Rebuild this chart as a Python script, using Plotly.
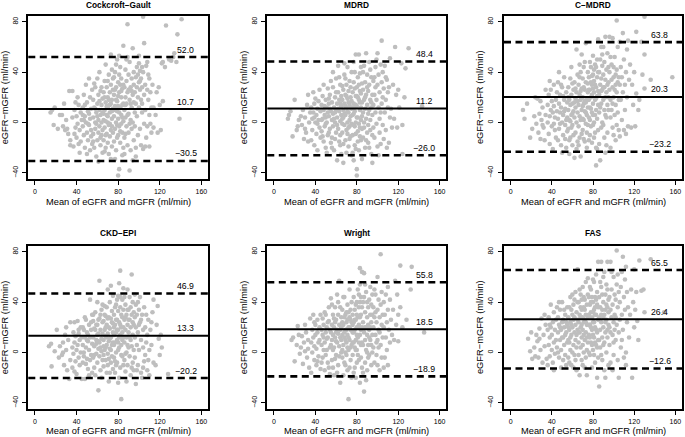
import plotly.graph_objects as go

titles = ["Cockcroft−Gault", "MDRD", "C−MDRD", "CKD−EPI", "Wright", "FAS"]
bias = [10.7, 11.2, 20.3, 13.3, 18.5, 26.4]
upper = [52.0, 48.4, 63.8, 46.9, 55.8, 65.5]
lower = [-30.5, -26.0, -23.2, -20.2, -18.9, -12.6]
x_ticks = [0, 40, 80, 120, 160]
y_ticks = [-40, 0, 40, 80]

cg_points = [
    (15,8),(16.5,10),(19,12),(22,-5),(24,6),(18,-2),
    (26,6),(28,15),(30,2),(31,-5),(32,-9),(33,25),(34,-14),(34,-18),(29,-6),(27,-3),
    (36,25),(37,-19),(38,10),(39,-4),(40,5),(40,-12),(41,20),(41,-1),(42,14),(43,-6),(43,-24),(44,8),(44,-15),(45,2),(36,4),(38,-9),(42,-17),(39,16),
    (46,12),(46,-3),(47,22),(47,-10),(48,5),(48,-20),(49,30),(49,0),(50,16),(50,-8),(51,9),(51,-14),(52,35),(52,-2),(53,20),(53,3),(53,-22),(54,11),(54,-6),(55,26),(55,-17),(46,6),(48,14),(50,-25),(51,-1),(52,7),(54,-11),(47,2),
    (56,4),(56,18),(56,-9),(57,12),(57,-20),(58,28),(58,0),(58,-5),(59,8),(59,-27),(60,15),(60,-14),(60,35),(61,2),(61,22),(61,-31),(62,-3),(62,10),(62,40),(63,-18),(63,6),(63,25),(64,-10),(64,14),(64,0),(65,19),(65,-6),(65,-24),(57,31),(59,-1),(60,5),(61,-8),(62,17),(63,-12),(64,28),(56,-15),(58,11),(65,8),
    (66,2),(66,24),(66,-14),(67,10),(67,33),(67,-4),(68,16),(68,-20),(68,46),(69,6),(69,-9),(69,28),(70,0),(70,20),(70,-16),(70,12),(71,38),(71,-2),(71,-25),(72,8),(72,24),(72,-11),(73,15),(73,30),(73,-6),(73,54),(74,3),(74,-19),(74,18),(74,42),(75,11),(75,-8),(75,26),(66,7),(67,-23),(68,1),(69,13),(70,33),(71,18),(72,-1),(73,-29),(74,9),(75,35),(68,-10),(70,5),(72,14),(74,-3),(67,20),
    (76,5),(76,22),(76,-15),(77,13),(77,40),(77,-5),(78,28),(78,0),(78,-22),(79,17),(79,9),(79,50),(80,-10),(80,32),(80,3),(81,24),(81,-3),(81,-37),(82,12),(82,44),(82,-16),(83,20),(83,6),(83,35),(84,-8),(84,27),(84,-26),(85,15),(85,61),(85,1),(76,36),(77,-29),(78,18),(79,-12),(80,21),(80,-42),(81,8),(82,30),(83,-1),(84,14),(76,10),(77,26),(78,46),(79,-2),(80,13),(81,38),(82,-7),(83,25),(84,4),(85,-20),(85,30),(81,53),
    (86,10),(86,28),(86,-12),(87,20),(87,4),(87,42),(88,-3),(88,33),(88,15),(89,78),(89,-18),(89,24),(90,7),(90,38),(90,-8),(91,18),(91,-38),(91,48),(92,2),(92,28),(92,-22),(93,12),(93,35),(93,-5),(94,22),(94,59),(94,0),(95,16),(95,40),(95,-14),(86,-25),(87,14),(88,50),(89,6),(90,26),(91,-1),(92,15),(93,25),(94,-30),(95,30),(89,52),(87,-9),
    (96,24),(96,8),(96,-3),(97,36),(97,15),(97,-20),(98,44),(98,28),(98,5),(99,20),(99,-10),(99,38),(100,32),(100,12),(100,47),(101,26),(101,-5),(101,41),(102,18),(102,35),(102,-18),(103,44),(103,8),(103,28),(104,84),(104,-21),(104,40),(105,22),(105,63),(105,-1),(100,53),(97,-27),(103,15),(101,33),
    (106,30),(106,10),(107,45),(107,-12),(108,26),(108,-3),(109,18),(109,38),(110,6),(110,-19),(111,24),(111,-1),(112,12),(112,-8),(113,30),(114,12),(114,-4),(106,-19),(108,48),(110,35),
    (117,24),(118,-8),(119,28),(120,14),(121,-6),(122,47),(123,48),(123,17),(125,44),(116,6),
    (126,77),(131,49),(134,55),(136,48),(137,70),(139,3),(141,82),(133,52),(129,50),
]

mdrd_points = [
    (13.5,3),(14.5,6),(16,9),(18,-11),(20,18),(22,-6),(23,-3),(24,2),
    (26,5),(27,-2),(28,10),(29,-13),(30,4),(31,-8),(32,14),(33,-15),(34,0),(35,8),(30,-5),(33,22),
    (36,-14),(36,12),(37,3),(37,-6),(38,24),(38,8),(39,-18),(39,15),(40,0),(40,19),(41,-9),(41,6),(42,11),(42,-22),(43,2),(43,17),(44,26),(44,-4),(45,9),(45,-12),(39,4),(42,-1),
    (46,14),(46,-7),(47,21),(47,3),(48,-15),(48,10),(49,6),(49,-3),(50,18),(50,-20),(51,12),(51,0),(52,27),(52,-10),(53,5),(53,15),(54,-5),(54,22),(55,9),(55,-16),(46,2),(47,-11),(48,30),(49,13),(50,-1),(51,-24),(52,8),(53,-8),(54,11),(55,33),(50,4),(53,19),
    (56,2),(56,16),(56,-12),(57,7),(57,28),(57,-3),(58,12),(58,-22),(59,20),(59,0),(60,35),(60,-8),(60,10),(61,-30),(61,15),(61,4),(62,24),(62,-5),(62,45),(63,9),(63,-15),(63,18),(64,1),(64,30),(64,-10),(65,13),(65,-25),(65,6),(56,-20),(57,40),(58,3),(59,-13),(60,24),(61,-2),(62,11),(63,36),(64,-18),(65,21),(59,8),(64,15),
    (66,3),(66,18),(66,-8),(67,26),(67,10),(67,-32),(68,-2),(68,15),(68,38),(69,6),(69,-14),(69,22),(70,12),(70,-6),(70,30),(71,0),(71,19),(71,44),(72,8),(72,-19),(72,25),(73,14),(73,-3),(73,33),(74,5),(74,-11),(74,20),(75,11),(75,-26),(75,40),(66,29),(67,-17),(68,7),(69,13),(70,-24),(71,-9),(72,16),(73,2),(74,28),(75,-1),(68,47),(70,21),(72,-4),(74,12),(66,-1),(69,35),(71,9),(73,-13),(75,17),(67,4),
    (76,6),(76,24),(76,-10),(77,15),(77,-2),(77,32),(78,9),(78,-18),(78,40),(79,21),(79,0),(79,54),(80,-37),(80,13),(80,28),(81,4),(81,-7),(81,36),(82,18),(82,54),(82,-22),(83,10),(83,25),(83,-4),(84,2),(84,44),(84,-14),(85,16),(85,31),(85,-29),(76,-24),(77,7),(78,27),(79,-9),(80,4),(81,20),(82,-1),(83,39),(84,12),(85,5),(80,-42),(79,14),(76,12),(77,48),(78,-3),(80,21),(81,-15),(82,30),(83,-11),(84,23),(85,-5),(77,-30),(83,16),(79,-21),
    (86,8),(86,26),(86,-12),(87,18),(87,-4),(87,45),(88,11),(88,32),(88,-20),(89,55),(89,3),(89,22),(90,-8),(90,14),(90,38),(91,25),(91,-2),(91,-16),(92,10),(92,30),(92,48),(93,-6),(93,18),(93,2),(94,36),(94,-25),(94,12),(95,-32),(95,22),(95,6),(86,40),(87,0),(88,20),(89,-14),(90,28),(91,7),(92,-20),(93,42),(94,16),(95,-10),
    (96,14),(96,33),(96,-4),(97,22),(97,-12),(98,8),(98,44),(98,28),(99,-1),(99,18),(100,55),(100,30),(100,-19),(101,12),(101,38),(102,3),(102,24),(102,-8),(103,-17),(103,46),(104,65),(104,15),(104,32),(105,-2),(105,20),(97,36),(99,50),(101,-26),(103,8),(105,40),
    (106,-13),(106,27),(107,8),(107,45),(108,18),(108,-6),(109,34),(109,-20),(110,12),(110,24),(111,-16),(112,51),(112,4),(113,11),(114,-4),(115,30),(108,36),(111,28),
    (116,3),(117,60),(118,22),(119,-4),(120,26),(121,12),(123,47),(124,-2),
    (127,43),(130,59),(143,13),(124,-25),(126,20),
]

cmdrd_points = [
    (12,10),(13.5,3),(16,15),(19,-12),(21,-5),(23,5),(24,20),(25,-1),
    (26,19),(27,-8),(28,7),(29,-13),(30,2),(31,12),(32,-4),(33,-14),(34,26),(34,6),(29,17),(31,-2),
    (36,0),(36,14),(37,-9),(37,22),(38,5),(38,-17),(39,10),(39,26),(40,-3),(40,17),(41,8),(41,-21),(42,13),(42,30),(43,-6),(43,4),(44,18),(44,-12),(45,9),(45,24),(38,33),(42,-1),
    (46,32),(46,3),(46,-14),(47,15),(47,-5),(48,22),(48,8),(49,-18),(49,12),(50,0),(50,28),(51,6),(51,-10),(52,18),(52,36),(53,-2),(53,11),(54,24),(54,-20),(55,4),(55,16),(47,40),(48,-1),(49,30),(50,-24),(51,21),(52,9),(53,-13),(54,2),(55,-7),
    (56,10),(56,28),(56,-5),(57,18),(57,-25),(57,2),(58,35),(58,14),(58,-12),(59,6),(59,22),(59,44),(60,-2),(60,15),(60,-18),(61,26),(61,9),(62,-28),(62,32),(62,4),(63,19),(63,-8),(63,12),(64,58),(64,24),(64,0),(65,38),(65,8),(65,-15),(56,20),(57,-14),(58,1),(59,-4),(60,31),(61,-10),(62,16),(63,27),(64,-21),(65,17),(60,7),
    (66,14),(66,30),(66,-3),(67,22),(67,5),(67,-12),(68,40),(68,18),(68,-27),(69,54),(69,10),(69,27),(70,-6),(70,20),(70,35),(71,2),(71,15),(71,44),(72,-15),(72,26),(72,9),(73,63),(73,32),(73,-1),(74,18),(74,6),(74,-20),(75,40),(75,24),(75,12),(66,-18),(67,36),(68,2),(69,-9),(70,13),(71,28),(72,48),(73,16),(74,-8),(75,-2),(67,46),(69,20),(71,-13),(73,8),(75,31),(68,25),(70,3),(72,17),
    (76,18),(76,36),(76,4),(77,26),(77,-10),(77,12),(78,44),(78,20),(78,-3),(79,30),(79,8),(79,-16),(80,38),(80,15),(80,53),(81,24),(81,0),(81,33),(82,-8),(82,18),(82,46),(83,28),(83,10),(83,-34),(84,36),(84,21),(84,-21),(85,66),(85,14),(85,40),(76,-14),(77,48),(78,32),(79,22),(80,-2),(81,42),(82,6),(83,19),(84,50),(85,-6),(76,26),(77,2),(78,11),(79,37),(80,27),(81,-12),(82,30),(83,44),(84,3),(85,25),(80,6),(83,-20),
    (86,22),(86,40),(86,8),(87,30),(87,-30),(87,50),(88,15),(88,35),(88,-4),(89,26),(89,45),(89,0),(90,18),(90,38),(90,60),(91,10),(91,28),(91,-12),(92,68),(92,34),(92,20),(93,4),(93,42),(93,24),(94,55),(94,14),(94,-8),(95,32),(95,20),(95,44),(86,-17),(87,12),(88,25),(89,54),(90,-2),(91,48),(92,6),(93,-18),(94,30),(95,10),(96,68),(88,60),(90,28),(92,-24),
    (96,26),(96,40),(97,18),(97,52),(97,-20),(98,34),(98,10),(99,67),(99,28),(99,-4),(100,44),(100,20),(100,36),(101,6),(101,52),(102,30),(102,14),(102,-14),(103,81),(103,42),(103,24),(104,8),(104,60),(105,36),(105,18),(105,-6),(98,46),(100,-10),(101,26),(102,38),(104,32),(97,4),(99,15),(103,-2),
    (106,-11),(106,30),(106,64),(107,44),(107,18),(108,2),(108,36),(109,71),(109,24),(110,50),(110,-6),(111,30),(111,10),(112,40),(113,58),(113,20),(114,-3),(114,65),(115,34),(112,-9),
    (116,46),(117,-4),(118,30),(119,14),(120,40),(121,-3),(122,72),(122,23),(124,10),(125,18),
    (128,38),(130,84),(130,27),(130,54),(136,34),(157,36),(127,64),
]

ckd_points = [
    (13.5,5),(15.5,7),(16,-11),(21,18),(23,-4),(24,5),(19,1),
    (26,-2),(27,8),(28,-10),(29,14),(30,2),(31,-14),(32,10),(33,-21),(34,24),(34,-6),(30,20),(27,0),
    (36,4),(36,-12),(37,16),(37,-1),(38,8),(38,24),(39,-7),(39,13),(40,2),(40,-17),(41,25),(41,6),(42,-4),(42,15),(43,10),(43,-10),(44,20),(44,0),(45,-21),(45,12),(38,-15),(42,18),
    (46,6),(46,-8),(47,18),(47,0),(48,12),(48,-21),(49,26),(49,4),(50,-5),(50,16),(51,9),(51,-13),(52,22),(52,2),(53,42),(53,12),(54,-2),(54,18),(55,7),(55,-16),(46,20),(47,-3),(48,28),(49,-9),(50,10),(51,14),(52,-18),(53,-6),(54,24),(55,30),
    (56,12),(56,-4),(56,25),(57,5),(57,-12),(58,18),(58,32),(59,-1),(59,10),(60,22),(60,-8),(60,40),(61,3),(61,15),(61,-30),(62,57),(62,27),(62,8),(63,-14),(63,18),(64,1),(64,34),(64,11),(65,-6),(65,24),(65,15),(56,30),(57,19),(58,-18),(59,7),(60,14),(61,26),(62,-3),(63,4),(64,-20),(65,38),(57,-2),(59,22),(61,9),(63,30),
    (66,10),(66,-11),(66,25),(67,18),(67,2),(67,37),(68,-6),(68,13),(68,29),(69,22),(69,6),(69,-16),(70,50),(70,15),(70,-1),(71,28),(71,9),(71,-23),(72,19),(72,40),(72,3),(73,12),(73,-8),(73,53),(74,24),(74,6),(74,33),(75,-13),(75,16),(75,45),(66,-2),(67,30),(68,4),(69,36),(70,-10),(71,20),(72,-16),(73,27),(74,-3),(75,8),(70,27),(72,11),(68,20),(66,5),(69,12),(71,-5),(73,2),(75,23),
    (76,14),(76,30),(76,-4),(77,22),(77,8),(77,-16),(78,38),(78,16),(78,0),(79,26),(79,10),(79,-8),(80,33),(80,18),(80,45),(81,4),(81,55),(81,24),(82,-12),(82,14),(82,36),(83,20),(83,-37),(83,6),(84,42),(84,28),(84,-3),(85,12),(85,34),(85,51),(76,20),(77,-7),(78,26),(79,42),(80,2),(81,-20),(82,22),(83,30),(84,16),(85,-10),(76,6),(77,36),(78,-10),(79,18),(80,8),(81,12),(82,44),(83,-2),(84,10),(85,20),(82,65),(80,-24),
    (86,26),(86,8),(86,-6),(87,18),(87,38),(87,-15),(88,30),(88,12),(88,0),(89,50),(89,22),(89,-10),(90,16),(90,34),(90,4),(91,26),(91,-3),(91,44),(92,10),(92,20),(92,-18),(93,62),(93,30),(93,5),(94,14),(94,40),(94,-8),(95,22),(95,2),(95,32),(86,44),(87,-1),(88,-23),(89,6),(90,26),(91,12),(92,36),(93,-12),(94,24),(95,-14),(89,34),(87,28),
    (96,12),(96,28),(96,-4),(97,-25),(97,20),(97,38),(98,6),(98,30),(99,16),(99,-10),(100,34),(100,2),(101,24),(101,44),(102,-16),(102,10),(103,30),(103,-20),(104,18),(104,4),(105,36),(105,-7),(98,-14),(100,22),(102,26),(96,46),(99,40),(104,-12),
    (106,20),(106,-2),(107,30),(107,8),(108,-14),(108,14),(109,26),(110,2),(110,-18),(111,18),(112,6),(113,32),(114,42),(114,-8),(109,-6),(112,24),
    (117,22),(118,37),(119,11),(120,-2),(121,14),(116,-10),
    (128,-17),(122,4),
]

wright_points = [
    (17,10),(18.5,12),(20,-7),(23,21),(25,-1),(22,6),(24,14),
    (26,4),(27,13),(28,-9),(29,8),(30,1),(31,16),(32,-4),(33,10),(34,-12),(35,27),(30,22),(33,3),
    (36,-16),(36,8),(37,18),(37,0),(38,12),(38,30),(39,-6),(39,5),(40,22),(40,14),(41,-10),(41,3),(42,16),(42,26),(43,8),(43,-3),(44,20),(44,10),(45,-13),(45,30),(39,24),(42,-7),
    (46,18),(46,6),(47,27),(47,-4),(48,12),(48,22),(49,-14),(49,8),(50,16),(50,30),(51,2),(51,20),(52,-8),(52,12),(53,36),(53,25),(54,4),(54,-17),(55,16),(55,43),(46,-8),(47,14),(48,2),(49,32),(50,-2),(51,11),(52,24),(53,-12),(54,18),(55,6),
    (56,22),(56,10),(56,-6),(57,30),(57,14),(58,-18),(58,4),(58,20),(59,36),(59,12),(60,-2),(60,26),(61,8),(61,18),(61,46),(62,-10),(62,15),(62,30),(63,57),(63,5),(63,22),(64,-24),(64,12),(64,36),(65,0),(65,20),(65,28),(56,38),(57,-12),(58,27),(59,-5),(60,9),(61,-16),(62,40),(63,-3),(64,18),(65,10),(59,24),(57,2),(60,16),
    (66,14),(66,34),(66,-4),(67,22),(67,6),(67,-18),(68,28),(68,12),(68,44),(69,0),(69,18),(69,-10),(70,32),(70,8),(70,24),(71,-14),(71,14),(71,38),(72,20),(72,2),(72,-37),(73,28),(73,10),(73,50),(74,-6),(74,18),(74,34),(75,24),(75,6),(75,-20),(66,24),(67,44),(68,-8),(69,30),(70,-2),(71,26),(72,12),(73,-12),(74,4),(75,40),(68,16),(70,18),(72,32),(74,26),(66,2),(69,10),(71,4),(73,20),
    (76,16),(76,30),(76,-2),(77,24),(77,8),(77,44),(78,-12),(78,18),(78,34),(79,10),(79,26),(79,-20),(80,40),(80,20),(80,2),(81,28),(81,12),(81,50),(82,-6),(82,22),(82,36),(83,67),(83,14),(83,-24),(84,30),(84,6),(84,44),(85,64),(85,20),(85,-12),(76,8),(77,-16),(78,4),(79,38),(80,14),(81,-2),(82,8),(83,28),(84,18),(85,36),(76,22),(77,16),(78,26),(79,2),(80,30),(81,20),(82,46),(83,40),(84,-4),(85,8),(80,-8),(83,54),
    (86,24),(86,40),(86,6),(87,63),(87,16),(87,-31),(88,32),(88,10),(88,-8),(89,20),(89,48),(89,2),(90,28),(90,14),(90,-14),(91,36),(91,22),(91,6),(92,42),(92,18),(92,-2),(93,30),(93,10),(93,52),(94,24),(94,-10),(94,38),(95,14),(95,30),(95,0),(86,-16),(87,44),(88,20),(89,-22),(90,40),(91,-4),(92,12),(93,20),(94,6),(95,46),(88,54),(90,0),
    (96,20),(96,36),(96,4),(97,28),(97,-8),(98,46),(98,14),(99,24),(99,-2),(100,60),(100,34),(100,10),(101,18),(101,42),(102,28),(102,-14),(103,78),(103,6),(103,38),(104,22),(104,48),(105,12),(105,30),(98,32),(100,-10),(101,4),(104,-4),(97,50),(99,8),(102,16),
    (106,40),(106,20),(107,-4),(107,30),(108,12),(108,46),(109,24),(109,2),(110,34),(110,-10),(111,18),(112,42),(112,8),(113,26),(114,14),(115,34),(110,52),(106,-12),
    (116,10),(117,57),(118,22),(119,46),(120,30),(120,9),(122,69),(122,36),(124,20),
    (132,50),(133,68),(145,16),(128,26),
]

fas_points = [
    (17,11),(20,16),(21,-5),(23,4),(25,14),(19,1),(24,-3),
    (26,9),(27,-4),(28,19),(29,2),(30,27),(31,-8),(32,14),(33,5),(34,22),(35,-5),(28,11),(33,30),
    (36,-10),(36,18),(37,6),(37,28),(38,12),(38,-3),(39,38),(39,20),(40,2),(40,14),(41,24),(41,-8),(42,8),(42,32),(43,18),(43,-1),(44,26),(44,10),(45,36),(45,4),(38,22),(42,-14),
    (46,16),(46,28),(47,-4),(47,22),(48,10),(48,34),(49,2),(49,18),(50,40),(50,12),(51,26),(51,-6),(52,20),(52,6),(53,30),(53,14),(54,-10),(54,24),(55,36),(55,8),(46,0),(47,40),(48,20),(49,-12),(50,24),(51,12),(52,34),(53,-2),(54,16),(55,22),
    (56,28),(56,10),(56,-4),(57,18),(57,36),(58,2),(58,24),(58,44),(59,14),(59,-10),(60,30),(60,20),(61,6),(61,38),(62,16),(62,-2),(62,28),(63,48),(63,10),(63,22),(64,-14),(64,32),(64,4),(65,40),(65,18),(65,66),(56,20),(57,-8),(58,12),(59,34),(60,0),(61,26),(62,42),(63,-6),(64,14),(65,26),(59,22),(61,-12),(57,8),(60,46),
    (66,24),(66,8),(66,40),(67,30),(67,-18),(67,16),(68,46),(68,20),(68,4),(69,34),(69,12),(69,-6),(70,28),(70,52),(70,18),(71,0),(71,36),(71,24),(72,10),(72,42),(72,-12),(73,30),(73,16),(73,56),(74,-18),(74,22),(74,38),(75,8),(75,28),(75,59),(66,-2),(67,50),(68,28),(69,22),(70,6),(71,44),(72,26),(73,-4),(74,12),(75,46),(68,36),(70,-10),(72,34),(74,2),(66,16),(69,42),(71,14),(73,24),
    (76,30),(76,14),(76,44),(77,22),(77,-2),(77,38),(78,32),(78,8),(78,50),(79,18),(79,-12),(79,28),(80,40),(80,24),(80,2),(81,34),(81,12),(81,56),(82,-8),(82,20),(82,44),(83,30),(83,6),(83,62),(84,16),(84,38),(84,-20),(85,72),(85,26),(85,10),(76,0),(77,52),(78,20),(79,44),(80,14),(81,-2),(82,30),(83,18),(84,48),(85,36),(76,22),(77,12),(78,40),(79,6),(80,32),(81,24),(82,8),(83,42),(84,4),(85,-4),(80,58),(82,36),
    (86,28),(86,44),(86,-27),(87,18),(87,36),(87,4),(88,72),(88,24),(88,52),(89,12),(89,34),(89,-6),(90,40),(90,20),(90,60),(91,30),(91,8),(91,64),(92,46),(92,16),(92,-20),(93,26),(93,38),(93,0),(94,72),(94,50),(94,12),(95,32),(95,22),(95,-10),(86,10),(87,56),(88,-2),(89,46),(90,28),(91,-14),(92,34),(93,54),(94,18),(95,42),(88,30),(90,6),(92,24),(94,36),
    (96,44),(96,20),(96,6),(97,72),(97,34),(97,-8),(98,28),(98,50),(99,14),(99,38),(100,60),(100,24),(100,-2),(101,46),(101,30),(102,10),(102,42),(103,81),(103,22),(103,54),(104,36),(104,-6),(105,48),(105,16),(105,-20),(98,64),(100,8),(101,18),(102,28),(104,62),(99,-14),(97,16),
    (106,40),(106,26),(107,52),(107,4),(108,30),(108,64),(109,76),(109,18),(110,44),(110,-4),(111,34),(111,58),(112,68),(112,0),(113,24),(113,48),(114,36),(115,12),(112,-10),(108,10),
    (116,30),(117,50),(118,-20),(119,40),(120,66),(120,20),(121,34),(122,48),(123,25),(124,10),
    (125,73),(127,49),(129,50),(130,32),(136,74),(149,32),
]

all_points = [cg_points, mdrd_points, cmdrd_points, ckd_points, wright_points, fas_points]

W, H = 685, 437
FONT = "Liberation Sans, Arial, Helvetica, sans-serif"
col_px = [(28.3, 208.0), (267.3, 446.3), (504.0, 682.0)]
row_px = [(15.7, 179.0), (245.7, 409.0)]
title_y_px = [5.0, 233.0]
xtitle_y_px = [201.7, 431.3]

fig = go.Figure()
shapes = []
annotations = []
layout_axes = {}

for i in range(6):
    r, c = divmod(i, 3)
    n = "" if i == 0 else str(i + 1)
    x0p, x1p = col_px[c]
    y0p, y1p = row_px[r]
    xd = [x0p / W, x1p / W]
    yd = [1 - y1p / H, 1 - y0p / H]
    pts = all_points[i]
    fig.add_trace(go.Scatter(
        x=[p[0] for p in pts], y=[p[1] for p in pts], mode="markers",
        marker=dict(color="#BEBEBE", size=4.6, line=dict(width=0)),
        xaxis="x" + n, yaxis="y" + n, showlegend=False, hoverinfo="skip"))
    common = dict(showline=True, linecolor="black", linewidth=2, mirror=True,
                  ticks="outside", ticklen=4, tickwidth=1, tickcolor="black",
                  showgrid=False, zeroline=False,
                  tickfont=dict(family=FONT, size=7, color="black"))
    layout_axes["xaxis" + n] = dict(domain=xd, range=[-6.4, 166.4], anchor="y" + n,
                                    tickvals=x_ticks, ticklabelstandoff=1, **common)
    layout_axes["yaxis" + n] = dict(domain=yd, range=[-44.8, 84.8], anchor="x" + n,
                                    tickvals=y_ticks, tickangle=-90, ticklabelstandoff=2, **common)
    xref_dom = "x" + n + " domain"
    shapes.append(dict(type="line", xref=xref_dom, x0=0, x1=1, yref="y" + n,
                       y0=bias[i], y1=bias[i], line=dict(color="black", width=2)))
    for v in (upper[i], lower[i]):
        shapes.append(dict(type="line", xref=xref_dom, x0=0, x1=1, yref="y" + n,
                           y0=v, y1=v, line=dict(color="black", width=2.6, dash="7px,4.5px")))
    for v in (upper[i], bias[i], lower[i]):
        annotations.append(dict(x=145, y=v, xref="x" + n, yref="y" + n,
                                text=f"{v:.1f}".replace("-", "−"), showarrow=False,
                                xanchor="center", yanchor="middle", yshift=7.5,
                                font=dict(family=FONT, size=8.7, color="black")))
    cx = (x0p + x1p) / 2 / W
    annotations.append(dict(x=cx, y=1 - title_y_px[r] / H, xref="paper", yref="paper",
                            text="<b>" + titles[i] + "</b>", showarrow=False,
                            xanchor="center", yanchor="middle",
                            font=dict(family=FONT, size=8.3, color="black")))
    annotations.append(dict(x=cx, y=1 - xtitle_y_px[r] / H, xref="paper", yref="paper",
                            text="Mean of eGFR and mGFR (ml/min)", showarrow=False,
                            xanchor="center", yanchor="middle",
                            font=dict(family=FONT, size=9.3, color="black")))
    annotations.append(dict(x=(x0p - 23.3) / W, y=1 - (y0p + y1p) / 2 / H,
                            xref="paper", yref="paper", textangle=-90,
                            text="eGFR−mGFR (ml/min)", showarrow=False,
                            xanchor="center", yanchor="middle",
                            font=dict(family=FONT, size=9.3, color="black")))

fig.update_layout(width=W, height=H, margin=dict(l=0, r=0, t=0, b=0),
                  paper_bgcolor="white", plot_bgcolor="white",
                  shapes=shapes, annotations=annotations, **layout_axes)

fig.write_html("out.html", config={"displayModeBar": False},
               post_script="document.body.style.margin='0px';document.body.style.overflow='hidden';")
